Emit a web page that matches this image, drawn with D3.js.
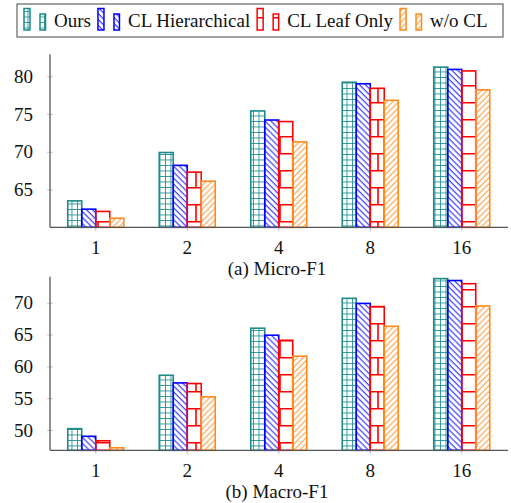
<!DOCTYPE html>
<html>
<head>
<meta charset="utf-8">
<script src="https://cdn.jsdelivr.net/npm/d3@7"></script>
<style>
  body { margin: 0; background: #fff; }
  text { font-family: "Liberation Serif", "Times New Roman", serif; fill: #111; }
</style>
</head>
<body>
<div class="chart"></div>
<script>
// categories and series
var shots = ["1", "2", "4", "8", "16"];
var methods = ["Ours", "CL Hierarchical", "CL Leaf Only", "w/o CL"];

// Micro-F1 values per method (same order as shots)
var microOurs = [63.5, 69.9, 75.4, 79.2, 81.2];
var microHier = [62.4, 68.2, 74.2, 79.0, 80.9];
var microLeaf = [62.1, 67.3, 74.0, 78.4, 80.7];
var microNoCL = [61.2, 66.1, 71.3, 76.8, 78.2];

// Macro-F1 values per method
var macroOurs = [50.2, 58.6, 66.0, 70.7, 73.8];
var macroHier = [49.0, 57.4, 64.9, 69.9, 73.5];
var macroLeaf = [48.3, 57.3, 64.1, 69.4, 73.0];
var macroNoCL = [47.2, 55.2, 61.6, 66.3, 69.5];

var microTicks = [65, 70, 75, 80];
var macroTicks = [50, 55, 60, 65, 70];

var colors = ["#1b8b8b", "#0000ff", "#ff0000", "#ff8a1a"];
var patternIds = ["pGrid", "pNW", "pBricks", "pNE"];

var W = 511, H = 503;
var svg = d3.select(".chart").append("svg")
    .attr("width", W)
    .attr("height", H);

// patterns
var defs = svg.append("defs");
var grid = defs.append("pattern").attr("id", "pGrid")
    .attr("patternUnits", "userSpaceOnUse").attr("width", 5.5).attr("height", 5.5);
grid.append("path").attr("d", "M0 0.4H5.5M0.4 0V5.5")
    .attr("stroke", colors[0]).attr("stroke-width", 0.9).attr("fill", "none");

var nw = defs.append("pattern").attr("id", "pNW")
    .attr("patternUnits", "userSpaceOnUse").attr("width", 4.2).attr("height", 4.2)
    .attr("patternTransform", "rotate(-45)");
nw.append("line").attr("x1", 1).attr("x2", 1).attr("y1", 0).attr("y2", 4.2)
    .attr("stroke", colors[1]).attr("stroke-width", 0.9);

var ne = defs.append("pattern").attr("id", "pNE")
    .attr("patternUnits", "userSpaceOnUse").attr("width", 4.2).attr("height", 4.2)
    .attr("patternTransform", "rotate(45)");
ne.append("line").attr("x1", 1).attr("x2", 1).attr("y1", 0).attr("y2", 4.2)
    .attr("stroke", colors[3]).attr("stroke-width", 0.9);

// bricks: joints land on x = 0, 14 (mod 28), rows every 17px
var bricks = defs.append("pattern").attr("id", "pBricks")
    .attr("patternUnits", "userSpaceOnUse").attr("width", 28).attr("height", 34)
    .attr("x", -7).attr("y", 0);
bricks.append("path").attr("d", "M0 0.8H28M0 17.8H28M7 0V17M21 17V34")
    .attr("stroke", colors[2]).attr("stroke-width", 1.6).attr("fill", "none");

// x scales (shared)
var x0 = d3.scaleBand().domain(shots).range([50, 507.5]);
var barW = 14;
var x1 = d3.scaleBand().domain(methods)
    .range([(x0.bandwidth() - 4 * barW) / 2, (x0.bandwidth() + 4 * barW) / 2]);

function drawPanel(series, ticks, domain, top, bottom, caption) {
  var y = d3.scaleLinear().domain(domain).range([bottom, top]);
  var g = svg.append("g");

  // ticks
  g.append("g")
    .attr("transform", "translate(50,0)")
    .call(d3.axisLeft(y).tickValues(ticks).tickSizeInner(3).tickSizeOuter(0).tickPadding(14))
    .call(function(a) {
      a.select(".domain").remove();
      a.selectAll("line").attr("stroke", "#c8c8c8").attr("x2", 3).attr("x1", -3);
      a.selectAll("text").attr("font-size", 19).attr("fill", "#111");
    });

  g.append("g")
    .attr("transform", "translate(0," + bottom + ")")
    .call(d3.axisBottom(x0).tickSizeInner(3).tickSizeOuter(0).tickPadding(10))
    .call(function(a) {
      a.select(".domain").remove();
      a.selectAll("line").attr("stroke", "#c8c8c8").attr("y1", -3).attr("y2", 4);
      a.selectAll("text").attr("font-size", 19).attr("fill", "#111");
    });

  // bars (absolute coordinates so the patterns shift from bar to bar)
  var bars = [];
  shots.forEach(function(s, i) {
    methods.forEach(function(m, j) { bars.push({ shot: s, m: m, j: j, v: series[j][i] }); });
  });
  g.selectAll(".bar").data(bars).enter().append("rect")
    .attr("class", "bar")
    .attr("x", function(d) { return x0(d.shot) + x1(d.m); })
    .attr("width", barW)
    .attr("y", function(d) { return y(d.v); })
    .attr("height", function(d) { return y(domain[0]) - y(d.v); })
    .attr("fill", function(d) { return "url(#" + patternIds[d.j] + ")"; })
    .attr("stroke", function(d) { return colors[d.j]; })
    .attr("stroke-width", 1.6);

  // axis lines
  g.append("line").attr("x1", 50).attr("x2", 50).attr("y1", top).attr("y2", bottom)
    .attr("stroke", "#555").attr("stroke-width", 1.3);
  g.append("line").attr("x1", 50).attr("x2", 508).attr("y1", bottom).attr("y2", bottom)
    .attr("stroke", "#555").attr("stroke-width", 1.3);

  g.append("text").attr("x", 277).attr("y", bottom + 48)
    .attr("text-anchor", "middle").attr("font-size", 19).text(caption);
}

drawPanel([microOurs, microHier, microLeaf, microNoCL], microTicks, [60, 82.9], 54.3, 227.3, "(a) Micro-F1");
drawPanel([macroOurs, macroHier, macroLeaf, macroNoCL], macroTicks, [46.8, 74.1], 276.7, 450.3, "(b) Macro-F1");

// legend
var leg = svg.append("g");
leg.append("rect").attr("x", 17).attr("y", 4).attr("width", 486).attr("height", 33)
  .attr("fill", "#fff").attr("stroke", "#444").attr("stroke-width", 1);
var lx = 24;
methods.forEach(function(m, j) {
  leg.append("rect").attr("x", lx).attr("y", 8.5).attr("width", 6).attr("height", 21.5)
    .attr("fill", "url(#" + patternIds[j] + ")").attr("stroke", colors[j]).attr("stroke-width", 1.5);
  leg.append("rect").attr("x", lx + 16).attr("y", 14).attr("width", 5.5).attr("height", 16)
    .attr("fill", "url(#" + patternIds[j] + ")").attr("stroke", colors[j]).attr("stroke-width", 1.5);
  var t = leg.append("text").attr("x", lx + 30).attr("y", 27).attr("font-size", 19).text(m);
  lx = lx + 30 + t.node().getComputedTextLength() + 7;
});
</script>
</body>
</html>
